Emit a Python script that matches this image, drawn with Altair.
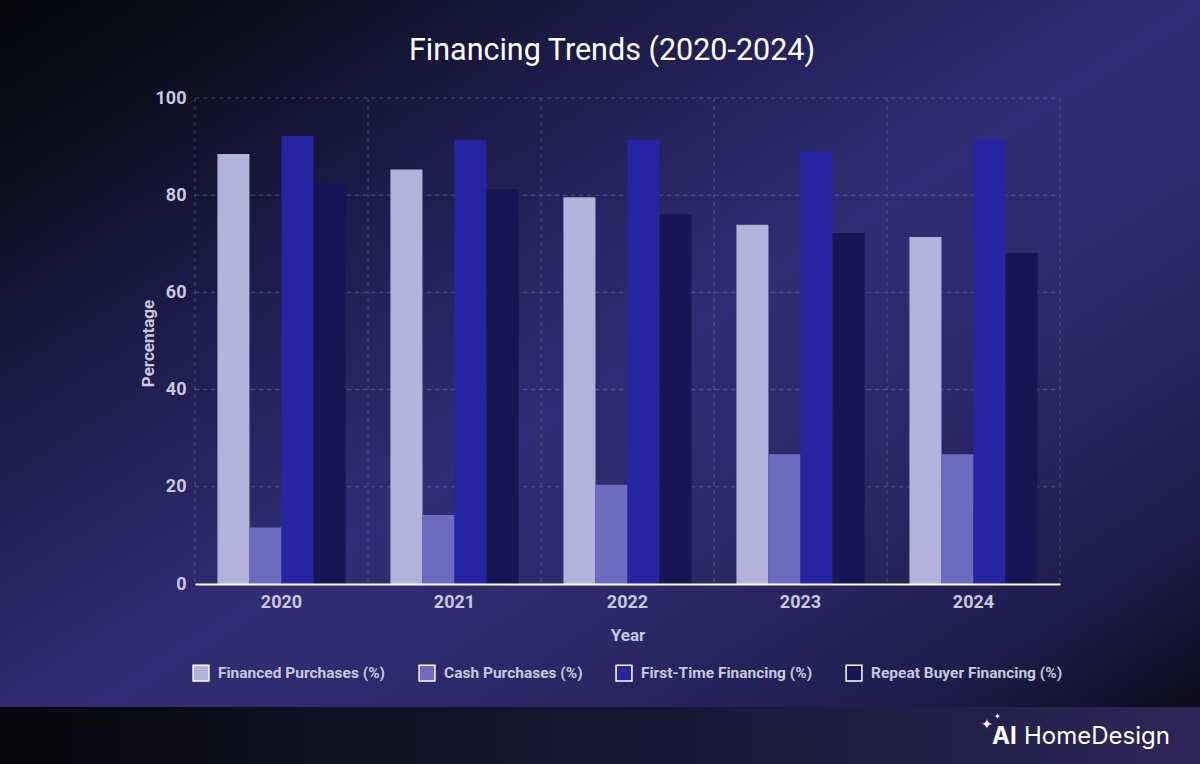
import altair as alt
import pandas as pd

years = ["2020", "2021", "2022", "2023", "2024"]
series = ["Financed Purchases (%)", "Cash Purchases (%)",
          "First-Time Financing (%)", "Repeat Buyer Financing (%)"]
financed = [88.5, 85.3, 79.6, 73.9, 71.4]
cash = [11.6, 14.2, 20.4, 26.7, 26.7]
first_time = [92.2, 91.4, 91.4, 89.1, 91.4]
repeat = [83.1, 81.3, 76.1, 72.2, 68.1]
colors = ["#b2b2da", "#6b6bc0", "#2525a3", "#161654"]
grid_values = [20, 40, 60, 80, 100]
title_text = "Financing Trends (2020-2024)"

W, H = 865, 486
PAD_L, PAD_T, PAD_R, PAD_B = 195, 98, 140, 180

rows = []
for s, vals in zip(series, [financed, cash, first_time, repeat]):
    for y, v in zip(years, vals):
        rows.append({"year": y, "series": s, "value": v})
df = pd.DataFrame(rows)

one = alt.Data(values=[{"k": 1}])

label_color = "#c8c8e0"

x_axis = alt.Axis(title="Year", labelAngle=0, domain=True, domainColor="white",
                  domainWidth=2, ticks=False, grid=False, labelPadding=9,
                  labelFont="Roboto", labelFontSize=18, labelFontWeight="bold",
                  labelColor=label_color, titleFont="Roboto", titleFontSize=17,
                  titleFontWeight="bold", titleColor=label_color,
                  titleY=51, titleBaseline="middle", zindex=1)
y_axis = alt.Axis(title="Percentage", values=[0, 20, 40, 60, 80, 100],
                  domain=False, ticks=False, grid=False, labelPadding=9,
                  labelFont="Roboto", labelFontSize=18, labelFontWeight="bold",
                  labelColor=label_color, titleFont="Roboto", titleFontSize=17,
                  titleFontWeight="bold", titleColor=label_color,
                  titleX=-47, titleY=245, titleBaseline="middle",
                  titleAlign="center", titleAngle=270, zindex=1)
x_scale = alt.Scale(domain=years, paddingInner=0, paddingOuter=0)
y_scale = alt.Scale(domain=[0, 100], nice=False)

bg = alt.Chart(one).mark_rect(
    fill=alt.LinearGradient(
        gradient="linear", x1=0, y1=0, x2=1, y2=1,
        stops=[
            alt.GradientStop(offset=0, color="#05050a"),
            alt.GradientStop(offset=0.12, color="#0d0d1e"),
            alt.GradientStop(offset=0.22, color="#16163a"),
            alt.GradientStop(offset=0.37, color="#25235e"),
            alt.GradientStop(offset=0.5, color="#302d74"),
            alt.GradientStop(offset=0.65, color="#2c296a"),
            alt.GradientStop(offset=0.84, color="#1e1c4c"),
            alt.GradientStop(offset=0.95, color="#0e0c20"),
            alt.GradientStop(offset=1, color="#08080f"),
        ],
    )
).encode(
    x=alt.value(-PAD_L), x2=alt.value(W + PAD_R),
    y=alt.value(-PAD_T), y2=alt.value(H + PAD_B),
)

footer = alt.Chart(one).mark_rect(
    fill=alt.LinearGradient(
        gradient="linear", x1=0, y1=0, x2=1, y2=0,
        stops=[
            alt.GradientStop(offset=0, color="#050508"),
            alt.GradientStop(offset=0.25, color="#100f20"),
            alt.GradientStop(offset=0.6, color="#1a1838"),
            alt.GradientStop(offset=1, color="#2d2559"),
        ],
    )
).encode(
    x=alt.value(-PAD_L), x2=alt.value(W + PAD_R),
    y=alt.value(707 - PAD_T), y2=alt.value(H + PAD_B),
)

grid_style = dict(color="white", opacity=0.2, strokeDash=[4, 4], strokeWidth=1)

ygrid = alt.Chart(pd.DataFrame({"value": grid_values})).mark_rule(**grid_style).encode(
    y=alt.Y("value:Q", axis=y_axis, scale=y_scale),
    x=alt.value(0), x2=alt.value(W),
)

xgrid = alt.Chart(pd.DataFrame({"year": years})).mark_rule(**grid_style).encode(
    x=alt.X("year:N", bandPosition=0, sort=years, scale=x_scale, axis=x_axis),
    y=alt.value(0), y2=alt.value(H),
)

xgrid_end = alt.Chart(one).mark_rule(**grid_style).encode(
    x=alt.value(W), y=alt.value(0), y2=alt.value(H),
)

bars = alt.Chart(df).mark_bar().encode(
    x=alt.X("year:N", sort=years, scale=x_scale, axis=x_axis),
    xOffset=alt.XOffset("series:N",
                        scale=alt.Scale(domain=series, paddingInner=0, paddingOuter=0.7)),
    y=alt.Y("value:Q", scale=y_scale, axis=y_axis),
    color=alt.Color("series:N",
                    scale=alt.Scale(domain=series, range=colors),
                    legend=alt.Legend(title=None, orient="none", legendX=-3,
                                      legendY=664 - PAD_T, direction="horizontal",
                                      symbolType="square", symbolSize=250,
                                      symbolStrokeColor="white", symbolStrokeWidth=1.5,
                                      symbolOpacity=1, labelFont="Roboto",
                                      labelFontSize=15.5, labelFontWeight="bold",
                                      labelColor=label_color, labelOffset=8,
                                      labelLimit=0, columnPadding=30, zindex=1)),
)

title = alt.Chart(one).mark_text(text=title_text, font="Roboto", fontSize=30.5,
                                 color="white", align="center",
                                 baseline="alphabetic").encode(
    x=alt.value(612 - PAD_L), y=alt.value(60 - PAD_T))

star_big = alt.Chart(one).mark_text(text="✦", fontSize=14, color="white",
                                    align="center", baseline="middle").encode(
    x=alt.value(987 - PAD_L), y=alt.value(725 - PAD_T))
star_small = alt.Chart(one).mark_text(text="✦", fontSize=8, color="white",
                                      align="center", baseline="middle").encode(
    x=alt.value(997 - PAD_L), y=alt.value(717 - PAD_T))
logo_ai = alt.Chart(one).mark_text(text="AI", font="Inter", fontSize=24, fontWeight="bold",
                                   color="white", align="left", baseline="alphabetic").encode(
    x=alt.value(992 - PAD_L), y=alt.value(744 - PAD_T))
logo_rest = alt.Chart(one).mark_text(text="HomeDesign", font="Inter", fontSize=24,
                                     fontWeight="normal", color="white", align="left",
                                     baseline="alphabetic").encode(
    x=alt.value(1024 - PAD_L), y=alt.value(744 - PAD_T))

chart = alt.layer(
    bg, footer, ygrid, xgrid, xgrid_end, bars, title,
    star_big, star_small, logo_ai, logo_rest
).properties(
    width=W, height=H,
    autosize=alt.AutoSizeParams(type="none"),
    padding={"left": PAD_L, "top": PAD_T, "right": PAD_R, "bottom": PAD_B},
).configure(background="#05050a").configure_view(stroke=None)

chart.save("out.html", embed_options={"renderer": "svg", "actions": False})
